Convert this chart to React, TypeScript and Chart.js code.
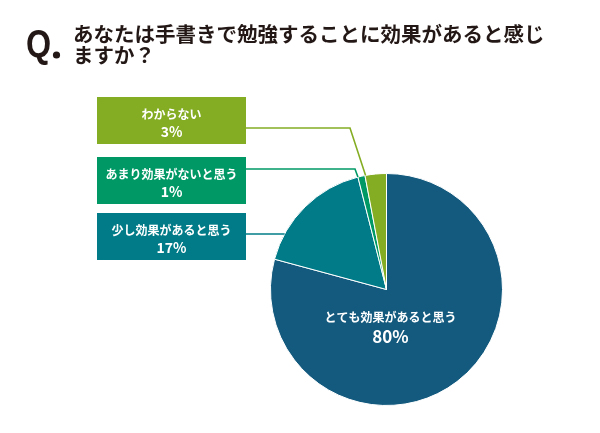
import React, { useEffect, useRef } from "react";
import { Chart, registerables } from "chart.js";

Chart.register(...registerables);

const titleLines = ["あなたは手書きで勉強することに効果があると感じ", "ますか？"];
const labels = ["とても効果があると思う", "少し効果があると思う", "あまり効果がないと思う", "わからない"];
const values = [80, 17, 1, 3];
const colors = ["#135a7e", "#007b87", "#009966", "#85ad24"];

const JP = "'Noto Sans CJK JP', 'Noto Sans', sans-serif";

const overlayPlugin = {
  id: "overlay",
  afterDraw(chart: any) {
    const ctx: CanvasRenderingContext2D = chart.ctx;
    const meta = chart.getDatasetMeta(0);
    const arcs = meta.data;
    ctx.save();

    // Title
    ctx.fillStyle = "#231815";
    ctx.textBaseline = "alphabetic";
    ctx.textAlign = "left";
    ctx.save();
    ctx.translate(26, 57);
    ctx.scale(0.85, 1);
    ctx.font = "bold 38px 'Liberation Sans', Arial, sans-serif";
    ctx.fillText("Q", 0, 0);
    ctx.restore();
    ctx.beginPath();
    ctx.arc(56.5, 55, 3.6, 0, Math.PI * 2);
    ctx.fill();

    ctx.font = `bold 20.5px ${JP}`;
    ctx.textBaseline = "middle";
    ctx.fillText(titleLines[0], 73, 34);
    ctx.fillText(titleLines[1], 73, 55);

    // Callouts
    const callouts = [
      { idx: 3, top: 97, lineY: 128, elbowX: 350, frac: 0.03 },
      { idx: 2, top: 157, lineY: 169, elbowX: 355, frac: 0 },
      { idx: 1, top: 213, lineY: 234, elbowX: null as number | null, frac: 0 },
    ];
    const boxX = 97;
    const boxW = 149;
    const boxH = 47;
    callouts.forEach((c) => {
      const arc = arcs[c.idx];
      const { x, y, startAngle, endAngle, outerRadius } = arc.getProps(
        ["x", "y", "startAngle", "endAngle", "outerRadius"],
        true
      );
      const col = colors[c.idx];
      ctx.strokeStyle = col;
      ctx.lineWidth = 1.6;
      ctx.beginPath();
      ctx.moveTo(boxX + boxW, c.lineY);
      if (c.elbowX !== null) {
        const a = startAngle + c.frac * (endAngle - startAngle);
        ctx.lineTo(c.elbowX, c.lineY);
        ctx.lineTo(x + outerRadius * Math.cos(a), y + outerRadius * Math.sin(a));
      } else {
        const dy = c.lineY - y;
        const ex = x - Math.sqrt(Math.max(outerRadius * outerRadius - dy * dy, 0));
        ctx.lineTo(ex, c.lineY);
      }
      ctx.stroke();

      ctx.fillStyle = col;
      ctx.fillRect(boxX, c.top, boxW, boxH);
      ctx.fillStyle = "#ffffff";
      ctx.textAlign = "center";
      ctx.textBaseline = "middle";
      ctx.font = `bold 12px ${JP}`;
      ctx.fillText(labels[c.idx], boxX + boxW / 2, c.top + 17);
      ctx.font = `bold 14px ${JP}`;
      ctx.fillText(values[c.idx] + "%", boxX + boxW / 2, c.top + 35);
    });

    // Inner label for biggest slice
    const big = arcs[0].getProps(["x", "y"], true);
    ctx.fillStyle = "#ffffff";
    ctx.textAlign = "center";
    ctx.textBaseline = "middle";
    ctx.font = `bold 12px ${JP}`;
    ctx.fillText(labels[0], big.x + 4, big.y + 28);
    ctx.font = `bold 17px ${JP}`;
    ctx.fillText(values[0] + "%", big.x + 4, big.y + 47);

    ctx.restore();
  },
};

export default function App() {
  const ref = useRef<HTMLCanvasElement>(null);
  useEffect(() => {
    if (!ref.current) return;
    const chart = new Chart(ref.current, {
      type: "pie",
      data: {
        labels,
        datasets: [
          {
            data: values,
            backgroundColor: colors,
            borderColor: "#ffffff",
            borderWidth: 1,
            hoverBorderWidth: 1,
          },
        ],
      },
      options: {
        responsive: false,
        animation: false,
        events: [],
        layout: { padding: { left: 270, right: 97, top: 173, bottom: 27 } },
        plugins: { legend: { display: false }, tooltip: { enabled: false }, title: { display: false } },
      },
      plugins: [overlayPlugin],
    });
    return () => chart.destroy();
  }, []);
  return (
    <div style={{ position: "absolute", left: 0, top: 0, width: 600, height: 433, background: "#fff" }}>
      <canvas ref={ref} width={600} height={433} />
    </div>
  );
}
